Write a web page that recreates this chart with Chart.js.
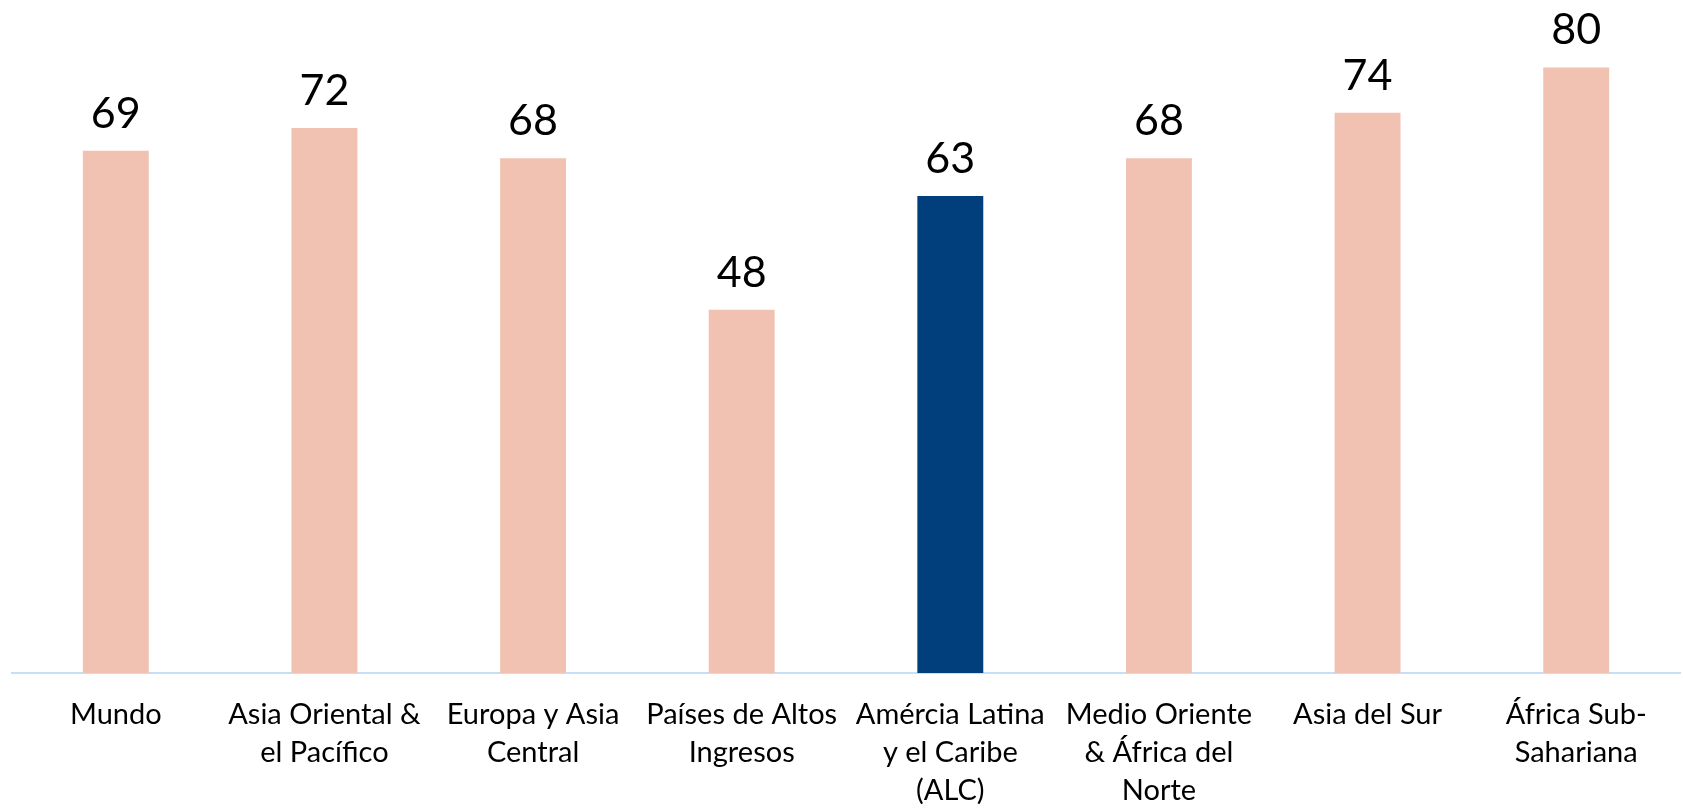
<!DOCTYPE html>
<html>
<head>
<meta charset="utf-8">
<script src="https://cdn.jsdelivr.net/npm/chart.js@4.4.0/dist/chart.umd.min.js"></script>
<style>
  html, body { margin: 0; padding: 0; background: #ffffff; }
  #wrap { width: 1683px; height: 808px; position: relative; }
</style>
</head>
<body>
<div id="wrap"><canvas id="c" width="1683" height="808"></canvas></div>
<script>
const categories = [
  "Mundo",
  ["Asia Oriental &", "el Pacífico"],
  ["Europa y Asia", "Central"],
  ["Países de Altos", "Ingresos"],
  ["Amércia Latina", "y el Caribe", "(ALC)"],
  ["Medio Oriente", "& África del", "Norte"],
  "Asia del Sur",
  ["África Sub-", "Sahariana"]
];
const values = [69, 72, 68, 48, 63, 68, 74, 80];
const highlightIndex = 4;

const peach = '#f1c2b2';
const navy = '#003e7c';
const barColors = values.map((v, i) => i === highlightIndex ? navy : peach);

const valueLabels = {
  id: 'valueLabels',
  afterDatasetsDraw(chart) {
    const ctx = chart.ctx;
    const meta = chart.getDatasetMeta(0);
    ctx.save();
    ctx.fillStyle = '#000000';
    ctx.font = '43px Lato';
    ctx.textAlign = 'center';
    ctx.textBaseline = 'alphabetic';
    meta.data.forEach((bar, i) => {
      ctx.fillText(String(values[i]), bar.x, bar.y - 23);
    });
    ctx.restore();
  }
};

new Chart(document.getElementById('c'), {
  type: 'bar',
  data: {
    labels: categories,
    datasets: [{
      data: values,
      backgroundColor: barColors,
      borderWidth: 0,
      barPercentage: 0.316,
      categoryPercentage: 1.0
    }]
  },
  options: {
    responsive: false,
    animation: false,
    devicePixelRatio: 1,
    layout: { padding: { left: 11.5, right: 2.5, top: 0, bottom: 0 } },
    plugins: {
      legend: { display: false },
      tooltip: { enabled: false }
    },
    scales: {
      x: {
        grid: { display: false, drawTicks: false },
        border: { display: true, color: '#c6dff6', width: 2 },
        ticks: {
          color: '#000000',
          font: { family: 'Lato', size: 29, lineHeight: 1.31 },
          padding: 23,
          maxRotation: 0,
          autoSkip: false
        },
        afterFit(scale) { scale.height = 135; }
      },
      y: {
        display: false,
        min: 0,
        max: 88.9
      }
    }
  },
  plugins: [valueLabels]
});
</script>
</body>
</html>
